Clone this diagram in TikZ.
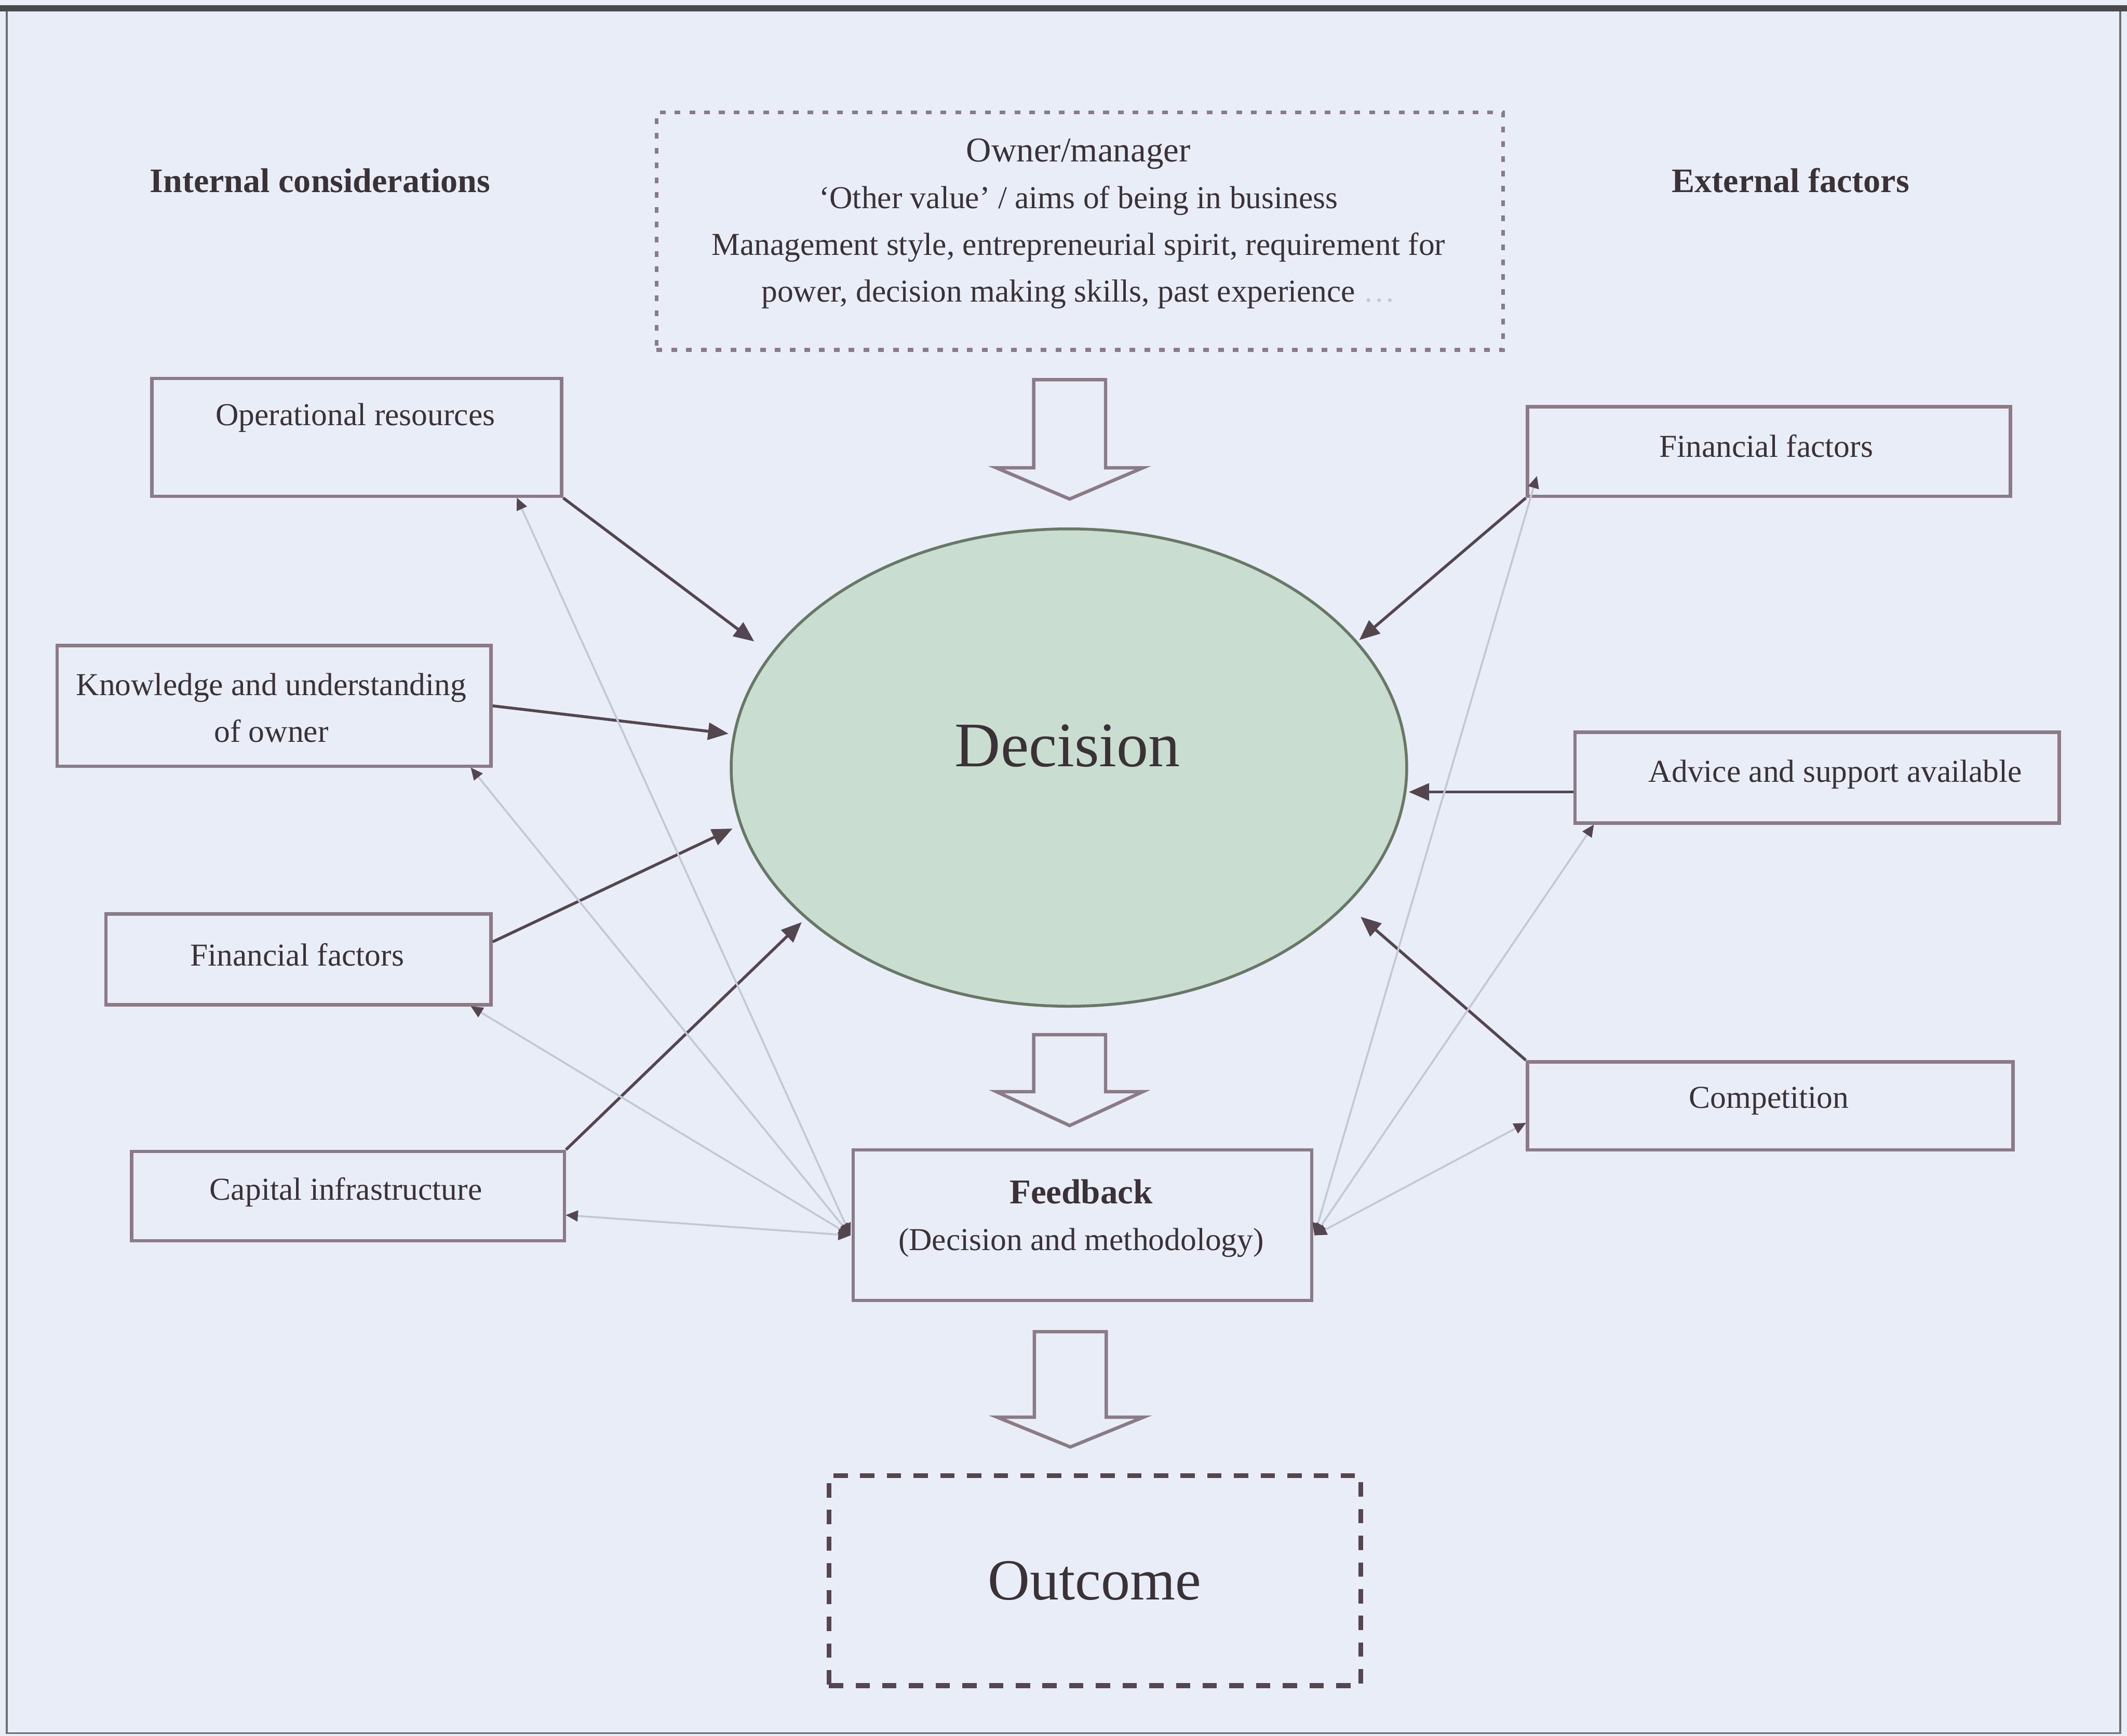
\documentclass[tikz,border=0pt]{standalone}
\usepackage{fontspec}
\setmainfont{Liberation Serif}
\usetikzlibrary{arrows.meta,shapes.geometric}

\definecolor{paper}{HTML}{E8EDF7}
\definecolor{ink}{HTML}{3A3236}
\definecolor{edge}{HTML}{8A7B86}
\definecolor{wire}{HTML}{54464E}
\definecolor{faint}{HTML}{C4C8D4}
\definecolor{leaf}{HTML}{C9DDD0}
\definecolor{leafedge}{HTML}{697866}
\definecolor{framecol}{HTML}{4A4A4E}

% hollow block arrow pointing down: centre x, top y, shoulder y, tip y
\newcommand{\bigdownarrow}[4]{%
  \draw[blockarrow] ({#1-0.265},{#2}) -- ({#1+0.265},{#2}) -- ({#1+0.265},{#3})
    -- ({#1+0.54},{#3}) -- ({#1},{#4}) -- ({#1-0.54},{#3}) -- ({#1-0.265},{#3}) -- cycle;}

\begin{document}
\begin{tikzpicture}[
  txt/.style={text=ink, inner sep=0pt, align=center, font=\fontsize{6.7}{9.8}\selectfont},
  headtxt/.style={text=ink, inner sep=0pt, font=\bfseries\fontsize{7.2}{9}\selectfont},
  factor/.style={draw=edge, line width=0.7pt, rectangle, inner sep=0pt},
  influence/.style={draw=wire, line width=0.6pt, -{Triangle[length=1.5mm,width=1.25mm]}},
  review/.style={draw=faint, line width=0.4pt,
    {Triangle[length=0.9mm,width=0.8mm,color=wire]}-{Triangle[length=0.9mm,width=0.8mm,color=wire]}},
  blockarrow/.style={draw=edge, line width=0.7pt, fill=paper, line join=miter},
]
% page and frame
\fill[paper] (0,0) rectangle (15.68,-12.80);
\useasboundingbox (0,0) rectangle (15.68,-12.80);
\draw[framecol!80, line width=0.4pt] (0.05,-0.06) rectangle (15.63,-12.78);
\draw[framecol, line width=1.3pt] (0,-0.06) -- (15.68,-0.06);

% headings
\node[headtxt] (int) at (2.36,-1.33) {Internal considerations};
\node[headtxt] (ext) at (13.20,-1.33) {External factors};

% owner / manager
\node[draw=edge, line width=0.8pt, dash pattern=on 1.2pt off 1.9pt,
      minimum width=6.24cm, minimum height=1.75cm, inner sep=0pt] (own) at (7.96,-1.705) {};
\node[txt] (own-t) at (7.95,-1.65) {{\fontsize{7.3}{9.8}\selectfont Owner/manager}\\
  `Other value' / aims of being in business\\
  Management style, entrepreneurial spirit, requirement for\\
  power, decision making skills, past experience \textcolor{faint}{\dots}};

% decision
\node[ellipse, draw=leafedge, fill=leaf, line width=0.6pt,
      minimum width=4.98cm, minimum height=3.52cm, inner sep=0pt] (dec) at (7.88,-5.66) {};
\node[text=ink, inner sep=0pt, font=\fontsize{13.3}{15}\selectfont] (dec-t) at (7.87,-5.50) {Decision};

% internal considerations
\node[factor, minimum width=3.02cm, minimum height=0.87cm] (ops)  at (2.63,-3.225) {};
\node[factor, minimum width=3.20cm, minimum height=0.89cm] (know) at (2.02,-5.205) {};
\node[factor, minimum width=2.84cm, minimum height=0.67cm] (finl) at (2.20,-7.075) {};
\node[factor, minimum width=3.19cm, minimum height=0.66cm] (cap)  at (2.565,-8.82) {};
\node[txt] (ops-t)  at (2.62,-3.08) {Operational resources};
\node[txt] (know-t) at (2.00,-5.22) {Knowledge and understanding\\of owner};
\node[txt] (finl-t) at (2.19,-7.04) {Financial factors};
\node[txt] (cap-t)  at (2.55,-8.79) {Capital infrastructure};

% external factors
\node[factor, minimum width=3.56cm, minimum height=0.66cm] (finr) at (13.04,-3.33) {};
\node[factor, minimum width=3.57cm, minimum height=0.67cm] (adv)  at (13.395,-5.735) {};
\node[factor, minimum width=3.58cm, minimum height=0.65cm] (comp) at (13.05,-8.155) {};
\node[txt] (finr-t) at (13.02,-3.29) {Financial factors};
\node[txt] (adv-t)  at (13.53,-5.71) {Advice and support available};
\node[txt] (comp-t) at (13.04,-8.12) {Competition};

% feedback and outcome
\node[factor, minimum width=3.38cm, minimum height=1.11cm] (fb) at (7.98,-9.035) {};
\node[txt] (fb-t) at (7.97,-8.985) {{\bfseries\fontsize{7.3}{9.8}\selectfont Feedback}\\(Decision and methodology)};
\node[draw=wire, line width=1pt, dash pattern=on 3pt off 2.6pt,
      minimum width=3.92cm, minimum height=1.55cm, inner sep=0pt,
      text=ink, font=\fontsize{12.2}{14}\selectfont] (out) at (8.07,-11.655) {Outcome};

% block arrows down the middle
\bigdownarrow{7.885}{-2.80}{-3.45}{-3.68}
\bigdownarrow{7.885}{-7.63}{-8.05}{-8.30}
\bigdownarrow{7.89}{-9.82}{-10.45}{-10.67}

% arrow ends beside the decision ellipse
\coordinate (e1) at (5.56,-4.73);
\coordinate (e2) at (5.37,-5.41);
\coordinate (e3) at (5.40,-6.11);
\coordinate (e4) at (5.91,-6.80);
\coordinate (w1) at (10.02,-4.72);
\coordinate (w2) at (10.385,-5.84);
\coordinate (w3) at (10.03,-6.76);

\draw[influence] (ops.south east) -- (e1);
\draw[influence] (know.east) -- (e2);
\draw[influence] ([yshift=0.13cm]finl.east) -- (e3);
\draw[influence] (cap.north east) -- (e4);
\draw[influence] (finr.south west) -- (w1);
\draw[influence] ([yshift=-0.105cm]adv.west) -- (w2);
\draw[influence] (comp.north west) -- (w3);

% feedback loops back to each factor
\coordinate (fbL) at (6.27,-9.11);
\coordinate (fbR) at (9.69,-9.11);
\coordinate (r1) at (3.81,-3.67);
\coordinate (r2) at (3.47,-5.66);
\coordinate (r3) at (3.47,-7.42);
\coordinate (r4) at (4.17,-8.96);
\coordinate (r5) at (11.33,-3.51);
\coordinate (r6) at (11.75,-6.08);
\coordinate (r7) at (11.25,-8.28);
\draw[review] (fbL) -- (r1);
\draw[review] (fbL) -- (r2);
\draw[review] (fbL) -- (r3);
\draw[review] (fbL) -- (r4);
\draw[review] (fbR) -- (r5);
\draw[review] (fbR) -- (r6);
\draw[review] (fbR) -- (r7);
\end{tikzpicture}
\end{document}
